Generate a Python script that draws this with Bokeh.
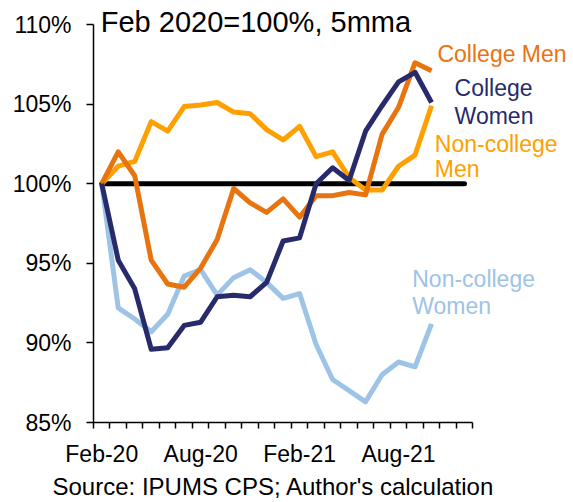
from bokeh.plotting import figure
from bokeh.models import FixedTicker, Label, Range1d, Title
from bokeh.embed import file_html
from bokeh.resources import INLINE

months = ["Feb-20", "Mar-20", "Apr-20", "May-20", "Jun-20", "Jul-20", "Aug-20",
          "Sep-20", "Oct-20", "Nov-20", "Dec-20", "Jan-21", "Feb-21", "Mar-21",
          "Apr-21", "May-21", "Jun-21", "Jul-21", "Aug-21", "Sep-21", "Oct-21",
          "Nov-21", "Dec-21"]
tick_labels = {0: "Feb-20", 6: "Aug-20", 12: "Feb-21", 18: "Aug-21"}

college_men = [100.0, 102.0, 100.5, 95.2, 93.7, 93.5, 94.7, 96.5, 99.7, 98.8, 98.2,
               99.05, 97.9, 99.25, 99.25, 99.45, 99.3, 103.1, 104.8, 107.6, 107.1]
college_women = [100.0, 95.2, 93.4, 89.6, 89.7, 91.1, 91.3, 92.9, 93.0, 92.9, 93.8,
                 96.4, 96.6, 100.0, 101.0, 100.2, 103.3, 104.9, 106.4, 107.0, 105.1]
noncollege_men = [100.0, 101.1, 101.4, 103.9, 103.3, 104.85, 104.95, 105.1, 104.5,
                  104.4, 103.4, 102.75, 103.6, 101.7, 102.0, 100.4, 99.6, 99.6,
                  101.1, 101.8, 104.9]
noncollege_women = [100.0, 92.2, 91.5, 90.7, 91.8, 94.2, 94.6, 93.0, 94.1, 94.6, 93.8,
                    92.8, 93.1, 89.9, 87.7, 87.0, 86.3, 88.0, 88.8, 88.5, 91.2]
reference = [100.0] * len(months)
y_ticks = [85, 90, 95, 100, 105, 110]

FONT = "Liberation Sans"
C_CM = "#E8740F"
C_CW = "#272B6C"
C_NM = "#FF9F00"
C_NW = "#9DC3E6"

# frame: left edge = start of x axis, bottom = x axis; extends to the top/right
# edge of the canvas so that the texts there are not clipped
p = figure(width=573, height=502, output_backend="svg", toolbar_location=None,
           x_range=Range1d(-0.5, 28.61), y_range=Range1d(85, 111.51),
           min_border_left=93, min_border_right=0, min_border_top=0,
           min_border_bottom=80)
p.outline_line_color = None
p.xgrid.visible = False
p.ygrid.visible = False

p.line(list(range(len(reference))), reference, line_color="black", line_width=5,
       line_cap="round")
p.line(list(range(len(noncollege_women))), noncollege_women, line_color=C_NW,
       line_width=5, line_join="round")
p.line(list(range(len(noncollege_men))), noncollege_men, line_color=C_NM,
       line_width=5, line_join="round")
p.line(list(range(len(college_men))), college_men, line_color=C_CM,
       line_width=5, line_join="round")
p.line(list(range(len(college_women))), college_women, line_color=C_CW,
       line_width=5, line_join="round")

# axes
xa = p.xaxis[0]
xa.bounds = (-0.5, len(months) - 0.5)
xa.ticker = FixedTicker(ticks=list(tick_labels.keys()),
                        minor_ticks=[i - 0.5 for i in range(len(months) + 1)])
xa.major_label_overrides = tick_labels
xa.major_tick_out = 0
xa.major_tick_in = 0
xa.minor_tick_out = 6
xa.minor_tick_in = 0
xa.minor_tick_line_color = "black"
xa.minor_tick_line_width = 1.5
xa.axis_line_color = "black"
xa.axis_line_width = 1.5
xa.major_label_text_font = FONT
xa.major_label_text_font_size = "23px"
xa.major_label_text_color = "black"
xa.major_label_standoff = 12

ya = p.yaxis[0]
ya.bounds = (85, 110)
ya.ticker = FixedTicker(ticks=y_ticks, minor_ticks=[])
ya.major_label_overrides = {v: f"{v}%" for v in y_ticks}
ya.major_tick_out = 7
ya.major_tick_in = 0
ya.major_tick_line_color = "black"
ya.major_tick_line_width = 1.5
ya.axis_line_color = "black"
ya.axis_line_width = 1.5
ya.major_label_text_font = FONT
ya.major_label_text_font_size = "23px"
ya.major_label_text_color = "black"
ya.major_label_standoff = 15


def add_text(x, y, text, color, size="23px"):
    p.add_layout(Label(x=x, y=y, text=text, text_color=color, text_font=FONT,
                       text_font_size=size, text_align="left",
                       text_baseline="alphabetic"))


add_text(-0.06, 110.17, "Feb 2020=100%, 5mma", "black", size="29px")
add_text(20.36, 108.13, "College Men", C_CM)
add_text(21.40, 106.03, "College", C_CW)
add_text(21.40, 104.26, "Women", C_CW)
add_text(20.20, 102.52, "Non-college", C_NM)
add_text(20.20, 100.91, "Men", C_NM)
add_text(18.83, 94.00, "Non-college", C_NW)
add_text(18.83, 92.32, "Women", C_NW)

source = Title(text="Source: IPUMS CPS; Author's calculation", align="left",
               offset=-41, text_font=FONT, text_font_size="24px",
               text_font_style="normal", text_color="black", standoff=3)
p.add_layout(source, "below")

open("out.html", "w").write(file_html(p, INLINE))
